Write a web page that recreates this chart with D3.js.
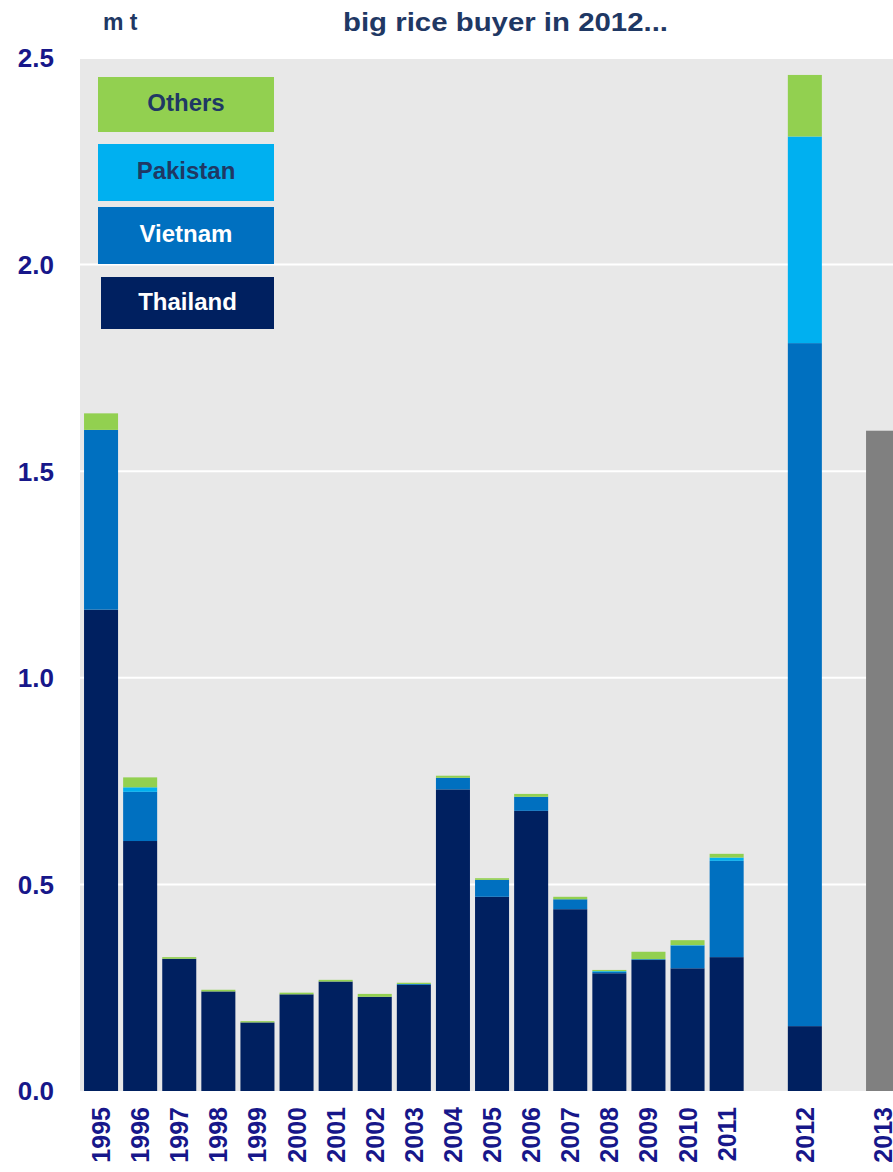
<!DOCTYPE html>
<html>
<head>
<meta charset="utf-8">
<script src="https://cdn.jsdelivr.net/npm/d3@7"></script>
<style>
  html, body { margin: 0; padding: 0; background: #fff; }
  svg { display: block; font-family: "Liberation Sans", Arial, sans-serif; }
</style>
</head>
<body>
<svg id="chart" width="893" height="1172"></svg>
<script>
const years = ["1995", "1996", "1997", "1998", "1999", "2000", "2001", "2002", "2003",
  "2004", "2005", "2006", "2007", "2008", "2009", "2010", "2011", "2012"];
const thailand = [1.165, 0.605, 0.320, 0.241, 0.166, 0.234, 0.265, 0.228, 0.257,
  0.730, 0.470, 0.678, 0.440, 0.285, 0.317, 0.297, 0.324, 0.157];
const vietnam = [0.435, 0.119, 0, 0, 0, 0, 0, 0, 0.002,
  0.028, 0.041, 0.034, 0.024, 0.003, 0.002, 0.055, 0.233, 1.653];
const pakistan = [0, 0.011, 0, 0, 0, 0, 0, 0, 0,
  0, 0, 0, 0, 0.002, 0, 0.001, 0.008, 0.500];
const others = [0.040, 0.024, 0.004, 0.004, 0.003, 0.004, 0.004, 0.007, 0.003,
  0.005, 0.004, 0.007, 0.006, 0.003, 0.018, 0.012, 0.009, 0.149];
const forecastYear = "2013";
const forecastValue = 1.598;
const yTicks = [0, 0.5, 1.0, 1.5, 2.0, 2.5];
const seriesNames = ["Thailand", "Vietnam", "Pakistan", "Others"];
const seriesColors = ["#002060", "#0070c0", "#00b0f0", "#92d050"];
const slots = [...years.slice(0, 17), "gap1", "2012", "gap2", forecastYear];

const svg = d3.select("#chart");
const plot = { left: 80, right: 893, top: 58, bottom: 1091 };

const x = d3.scaleBand()
  .domain(slots)
  .range([81.5, 81.5 + 21 * 39.1])
  .paddingInner(0.13)
  .paddingOuter(0.065);

const y = d3.scaleLinear().domain([0, 2.5]).range([plot.bottom, plot.top]);

// plot background + gridlines
svg.append("rect")
  .attr("x", plot.left).attr("y", plot.top)
  .attr("width", plot.right - plot.left).attr("height", plot.bottom - plot.top)
  .attr("fill", "#e8e8e8");

svg.append("g")
  .selectAll("line")
  .data(yTicks.filter(d => d > 0))
  .join("line")
  .attr("x1", plot.left).attr("x2", plot.right)
  .attr("y1", d => y(d)).attr("y2", d => y(d))
  .attr("stroke", "#fff")
  .attr("stroke-width", 2);

// y tick labels
svg.append("g")
  .selectAll("text")
  .data(yTicks)
  .join("text")
  .attr("x", 54)
  .attr("y", d => y(d))
  .attr("dy", "0.36em")
  .attr("text-anchor", "end")
  .style("font-size", "26px")
  .style("font-weight", "700")
  .style("fill", "#17178a")
  .text(d => d.toFixed(1));

// stacked bars
const rows = years.map((yr, i) => ({
  year: yr, Thailand: thailand[i], Vietnam: vietnam[i], Pakistan: pakistan[i], Others: others[i]
}));
const stack = d3.stack().keys(seriesNames)(rows);

svg.append("g")
  .selectAll("g")
  .data(stack)
  .join("g")
  .attr("fill", (d, i) => seriesColors[i])
  .selectAll("rect")
  .data(d => d)
  .join("rect")
  .attr("x", d => x(d.data.year))
  .attr("width", x.bandwidth())
  .attr("y", d => y(d[1]))
  .attr("height", d => y(d[0]) - y(d[1]));

// forecast bar
svg.append("rect")
  .attr("x", x(forecastYear))
  .attr("width", x.bandwidth())
  .attr("y", y(forecastValue))
  .attr("height", y(0) - y(forecastValue))
  .attr("fill", "#808080");

// x labels
svg.append("g")
  .selectAll("text")
  .data([...years, forecastYear])
  .join("text")
  .attr("transform", d => `translate(${x(d) + x.bandwidth() / 2},1107) rotate(-90)`)
  .attr("text-anchor", "end")
  .attr("dy", "0.36em")
  .style("font-size", "25px")
  .style("font-weight", "700")
  .style("fill", "#17178a")
  .text(d => d);

// legend
const legendBoxes = [
  { name: "Others", x: 98, y: 77, w: 176, h: 55, text: "#1f3864" },
  { name: "Pakistan", x: 98, y: 144, w: 176, h: 57, text: "#1f3864" },
  { name: "Vietnam", x: 98, y: 207, w: 176, h: 57, text: "#ffffff" },
  { name: "Thailand", x: 101, y: 277, w: 173, h: 52, text: "#ffffff" }
];
const legend = svg.append("g")
  .selectAll("g")
  .data(legendBoxes)
  .join("g");
legend.append("rect")
  .attr("x", d => d.x).attr("y", d => d.y)
  .attr("width", d => d.w).attr("height", d => d.h)
  .attr("fill", d => seriesColors[seriesNames.indexOf(d.name)]);
legend.append("text")
  .attr("x", d => d.x + d.w / 2)
  .attr("y", d => d.y + d.h / 2 - 2)
  .attr("dy", "0.36em")
  .attr("text-anchor", "middle")
  .style("font-size", "24px")
  .style("font-weight", "700")
  .style("fill", d => d.text)
  .text(d => d.name);

// titles
svg.append("text")
  .attr("x", 103).attr("y", 30)
  .style("font-size", "23px")
  .style("font-weight", "700")
  .style("fill", "#1f3864")
  .text("m t");

svg.append("text")
  .attr("x", 343).attr("y", 31)
  .attr("textLength", 325)
  .attr("lengthAdjust", "spacingAndGlyphs")
  .style("font-size", "26px")
  .style("font-weight", "700")
  .style("fill", "#1f3864")
  .text("big rice buyer in 2012...");
</script>
</body>
</html>
